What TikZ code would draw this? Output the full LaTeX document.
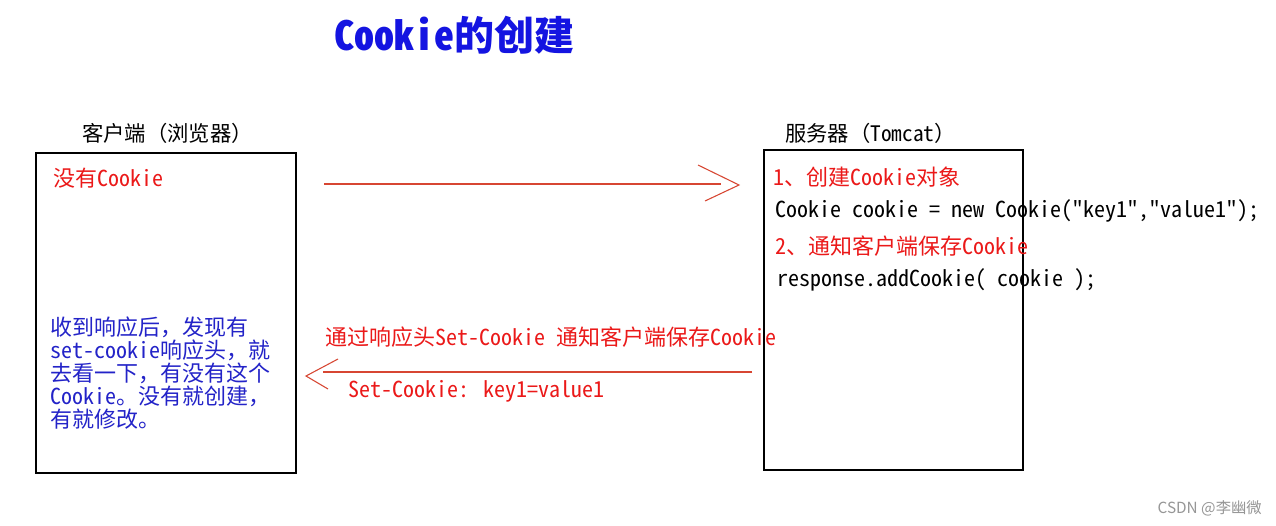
\documentclass[tikz,border=0pt]{standalone}
\usepackage{fontspec}
\setmainfont{Noto Sans CJK SC}
\newfontfamily\lat{Noto Sans CJK SC}[RawFeature=+hwid,Ligatures=TeXOff]
\usetikzlibrary{arrows.meta}
\definecolor{tred}{RGB}{235,25,25}
\definecolor{ared}{RGB}{215,70,50}
\definecolor{tblue}{RGB}{35,35,200}
\definecolor{ttitle}{RGB}{20,20,225}
\definecolor{wm}{RGB}{150,150,150}
\begin{document}
\begin{tikzpicture}[x=0.75pt,y=-0.75pt,
  panel/.style={draw=black, line width=1pt, minimum width=195pt, minimum height=240pt, inner sep=0pt},
  lbl/.style={anchor=west, inner sep=0pt, font=\fontsize{16.5}{18}\selectfont},
  redtxt/.style={lbl, text=tred},
  blktxt/.style={lbl, text=black},
  flow/.style={draw=ared, line width=1.2pt},
  chev/.style={draw=ared, line width=0.8pt}]
\useasboundingbox[fill=white] (0,0) rectangle (1276,525);
% title
\node[inner sep=0pt, text=ttitle, font=\fontsize{30}{34}\bfseries\selectfont] (title) at (454,35) {{\lat Cookie}的创建};
% panels
\node[panel] (client) at (166,313) {};
\node[panel, minimum width=194.25pt] (server) at (893.5,310) {};
\node[blktxt, font=\fontsize{16}{18}\selectfont] (clientlbl) at (82,133) {客户端（浏览器）};
\node[blktxt, font=\fontsize{16}{18}\selectfont] (serverlbl) at (785,133) {服务器（{\lat Tomcat}）};
% client texts
\node[redtxt] (nocookie) at (53,178) {没有{\lat Cookie}};
\node[anchor=north west, inner sep=0pt, align=left, text=tblue, font=\fontsize{16.5}{17.2}\selectfont] (clientnote) at (50,317)
  {收到响应后，发现有\\{\lat set-cookie}响应头，就\\去看一下，有没有这个\\{\lat Cookie}。没有就创建，\\有就修改。};
% server texts
\node[redtxt] (s1) at (773,177) {{\lat 1}、创建{\lat Cookie}对象};
\node[blktxt] (s2) at (775,211) {\lat Cookie cookie = new Cookie("key1","value1");};
\node[redtxt] (s3) at (775,246) {{\lat 2}、通知客户端保存{\lat Cookie}};
\node[blktxt] (s4) at (777,280) {\lat response.addCookie( cookie );};
% top arrow
\coordinate (a1s) at (324,184);
\coordinate (a1e) at (721,184);
\coordinate (a1t) at (739,185);
\coordinate (a1u) at (698,165);
\coordinate (a1d) at (705,201);
\draw[flow] (a1s) -- (a1e);
\draw[chev] (a1u) -- (a1t) -- (a1d);
% bottom arrow
\coordinate (a2s) at (752,372);
\coordinate (a2e) at (323,372);
\coordinate (a2t) at (306,376);
\coordinate (a2u) at (338,359);
\coordinate (a2d) at (328,389);
\draw[flow] (a2s) -- (a2e);
\draw[chev] (a2u) -- (a2t) -- (a2d);
\node[redtxt] (resp) at (325,337) {通过响应头{\lat Set-Cookie }通知客户端保存{\lat Cookie}};
\node[redtxt] (hdr) at (348,391) {\lat Set-Cookie: key1=value1};
% watermark
\node[anchor=east, inner sep=0pt, text=wm, font=\fontsize{11.5}{13}\selectfont] (wmk) at (1262,508) {CSDN @李幽微};
\end{tikzpicture}
\end{document}
